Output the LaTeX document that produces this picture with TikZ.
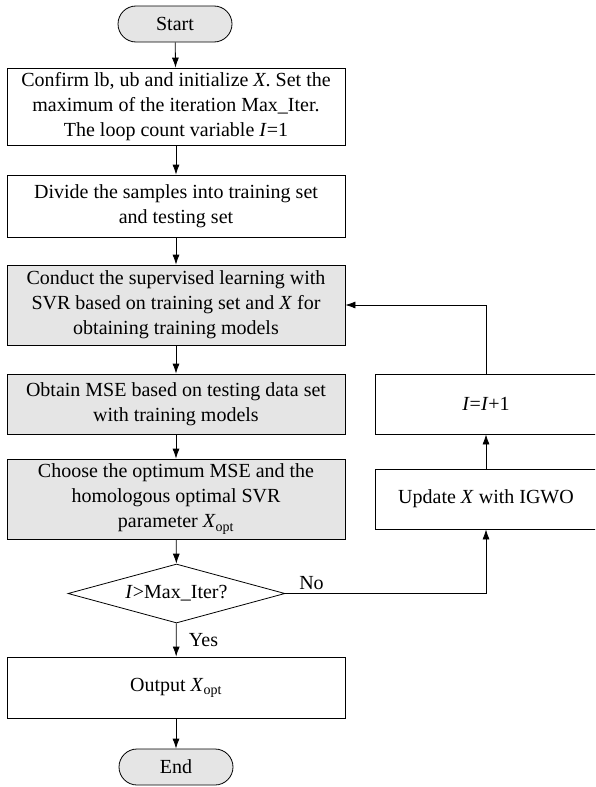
\documentclass[tikz,border=0pt]{standalone}
\usepackage{fontspec}
\setmainfont{Liberation Serif}
\usetikzlibrary{arrows.meta,shapes.geometric}

\tikzset{
  term/.style={draw,fill=gray!20,rounded corners=18pt,minimum width=114pt,minimum height=36pt,inner sep=0pt},
  proc/.style={draw,minimum width=338pt,align=center,inner sep=0pt},
  shaded/.style={proc,fill=gray!20},
  side/.style={draw,minimum width=222pt,align=center,inner sep=0pt},
  decide/.style={draw,diamond,aspect=3.68,minimum width=217pt,minimum height=59pt,inner sep=0pt},
  flow/.style={-{Latex[length=10pt,width=7pt]}}
}

\begin{document}
\begin{tikzpicture}[x=1pt,y=-1pt,line width=0.8pt,font=\fontsize{20}{25}\selectfont]
\clip (0,0) rectangle (595,787);

% ---- main column ----
\node[term] (start) at (175,24) {Start};
\node[proc,minimum height=77pt] (init) at (176,106.5) {Confirm lb, ub and initialize \textit{X}. Set the\\ maximum of the iteration Max\_Iter.\\ The loop count variable \textit{I}=1};
\node[proc,minimum height=62pt] (split) at (176,206) {Divide the samples into training set\\ and testing set};
\node[shaded,minimum height=80pt] (learn) at (176,305) {Conduct the supervised learning with\\ SVR based on training set and \textit{X} for\\ obtaining training models};
\node[shaded,minimum height=60pt] (mse) at (176,404) {Obtain MSE based on testing data set\\ with training models};
\node[shaded,minimum height=80pt] (best) at (176,499) {Choose the optimum MSE and the\\ homologous optimal SVR\\ parameter \textit{X}\textsubscript{opt}};
\node[decide] (test) at (176.5,593.5) {\textit{I}>Max\_Iter?};
\node[proc,minimum height=61pt] (out) at (176,687.5) {Output \textit{X}\textsubscript{opt}};
\node[term] (end) at (176,767) {End};

% ---- loop column ----
\node[side,minimum height=60pt] (inc) at (486,404) {\textit{I}=\textit{I}+1};
\node[side,minimum height=60pt] (upd) at (486,499) {Update \textit{X} with IGWO};

% ---- connectors ----
\draw[flow] (start) -- (init);
\draw[flow] (init) -- (split);
\draw[flow] (split) -- (learn);
\draw[flow] (learn) -- (mse);
\draw[flow] (mse) -- (best);
\draw[flow] (best) -- (test);
\draw[flow] (test) -- node[midway,right,xshift=9pt] {Yes} (out);
\draw[flow] (out) -- (end);
\draw[flow] (test.east) -| node[pos=0.065,above] {No} (upd.south);
\draw[flow] (upd) -- (inc);
\draw[flow] (inc.north) |- (learn.east);

\end{tikzpicture}
\end{document}
